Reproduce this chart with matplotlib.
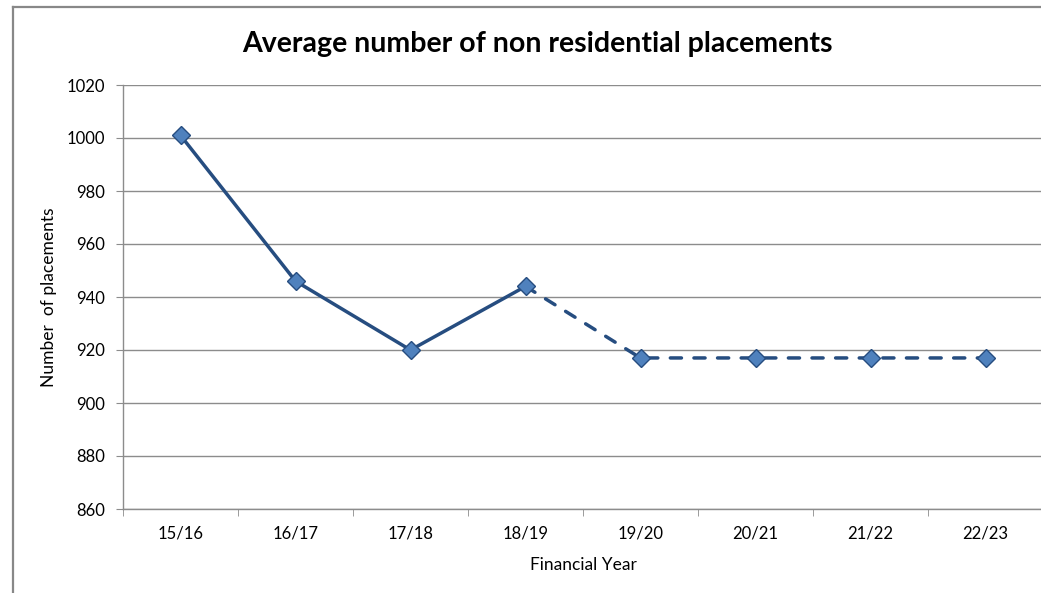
import numpy as np
import matplotlib
matplotlib.use("Agg")
import matplotlib.pyplot as plt
from matplotlib.lines import Line2D

# financial years and average placements (actual then projected)
years = ['15/16', '16/17', '17/18', '18/19', '19/20', '20/21', '21/22', '22/23']
placements = [1001, 946, 920, 944, 917, 917, 917, 917]
n_actual = 4  # first four years are actual, rest projected (dashed)

y_ticks = [860, 880, 900, 920, 940, 960, 980, 1000, 1020]

LINE_COL = '#264d80'
MARK_COL = '#4f81bd'
GRID_COL = '#8c8c8c'

plt.rcParams['font.family'] = ['Lato', 'DejaVu Sans']

W, H = 1041, 593
fig = plt.figure(figsize=(W / 100, H / 100), dpi=100)
ax = fig.add_axes([123 / W, (H - 509) / H, 920 / W, 424 / H])

x = np.arange(len(years))
ax.plot(x[:n_actual], placements[:n_actual], color=LINE_COL, lw=2.5,
        solid_capstyle='round', zorder=3)
ax.plot(x[n_actual - 1:], placements[n_actual - 1:], color=LINE_COL, lw=2.5,
        dashes=(3.2, 3.6), dash_capstyle='round', zorder=3)
ax.plot(x, placements, ls='none', marker='D', ms=9, mfc=MARK_COL,
        mec=LINE_COL, mew=1.0, zorder=4)

ax.set_xlim(-0.5, len(years) - 0.5)
ax.set_ylim(860, 1020)
ax.set_yticks(y_ticks)
ax.set_xticks(x)
ax.set_xticklabels(years)
ax.set_xticks(np.arange(len(years) + 1) - 0.5, minor=True)

ax.grid(axis='y', color=GRID_COL, lw=1.0)
ax.set_axisbelow(True)
for s in ['top', 'right']:
    ax.spines[s].set_visible(False)
for s in ['left', 'bottom']:
    ax.spines[s].set_color(GRID_COL)
    ax.spines[s].set_linewidth(1.0)

ax.tick_params(axis='y', length=5, color=GRID_COL, pad=8, labelsize=12)
ax.tick_params(axis='x', which='major', length=0, pad=12, labelsize=12)
ax.tick_params(axis='x', which='minor', length=5, color=GRID_COL)

ax.set_xlabel('Financial Year', fontsize=12.5, labelpad=11)
ax.set_ylabel('Number  of placements', fontsize=12.5, labelpad=7)

fig.text(537 / W, 1 - 44 / H, 'Average number of non residential placements',
         ha='center', va='center', fontsize=20.5, fontweight='bold')

# outer chart frame (only left and top edges are visible)
fig.add_artist(Line2D([13 / W, 13 / W], [0, 1 - 7 / H], transform=fig.transFigure,
                      color='#888888', lw=1.6))
fig.add_artist(Line2D([13 / W, 1], [1 - 7 / H, 1 - 7 / H], transform=fig.transFigure,
                      color='#888888', lw=1.6))

fig.savefig('out.png', dpi=100)
